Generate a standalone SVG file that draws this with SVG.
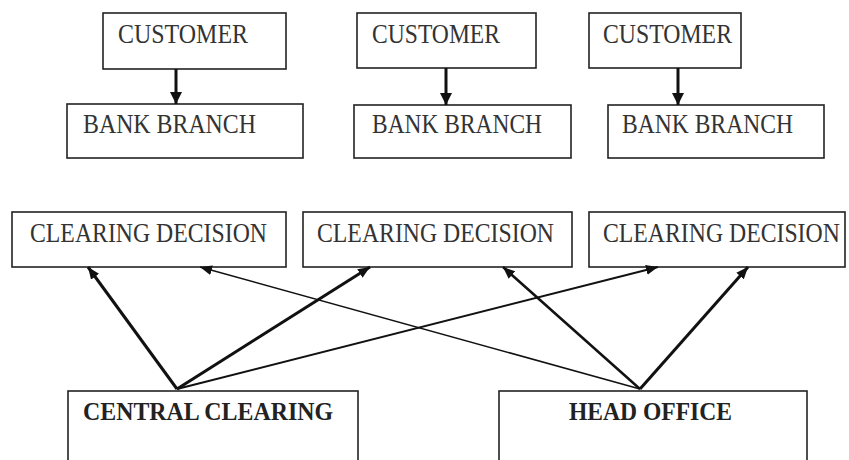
<svg xmlns="http://www.w3.org/2000/svg" width="849" height="460" viewBox="0 0 849 460">
<style>
.box{fill:#fff;stroke:#222;stroke-width:1.6}
.t{font-family:"Liberation Serif","Times New Roman",serif;font-size:27px;fill:#333}
.b{font-weight:bold;fill:#222;font-size:26px}
.c{stroke:#111;fill:none}
</style>
<defs>
<marker id="ah" viewBox="0 0 12 10" refX="12" refY="5" markerWidth="12" markerHeight="10" markerUnits="userSpaceOnUse" orient="auto">
<path d="M0,0 L12,5 L0,10 z" fill="#111"/>
</marker>
<marker id="ahv" viewBox="0 0 12 12" refX="12" refY="6" markerWidth="12" markerHeight="12" markerUnits="userSpaceOnUse" orient="auto">
<path d="M0,0 L12,6 L0,12 z" fill="#111"/>
</marker>
</defs>
<rect width="849" height="460" fill="#fff"/>
<g id="customer1"><rect class="box" x="103" y="13" width="183" height="56"/><text class="t" x="118" y="43" textLength="130" lengthAdjust="spacingAndGlyphs">CUSTOMER</text></g>
<g id="customer2"><rect class="box" x="357" y="13" width="179" height="55"/><text class="t" x="372" y="43" textLength="128" lengthAdjust="spacingAndGlyphs">CUSTOMER</text></g>
<g id="customer3"><rect class="box" x="589" y="13" width="152" height="55"/><text class="t" x="603" y="43" textLength="129" lengthAdjust="spacingAndGlyphs">CUSTOMER</text></g>
<g id="branch1"><rect class="box" x="67" y="104" width="236" height="54"/><text class="t" x="83" y="133" textLength="173" lengthAdjust="spacingAndGlyphs">BANK BRANCH</text></g>
<g id="branch2"><rect class="box" x="354" y="105" width="217" height="53"/><text class="t" x="372" y="133" textLength="170" lengthAdjust="spacingAndGlyphs">BANK BRANCH</text></g>
<g id="branch3"><rect class="box" x="608" y="105" width="216" height="53"/><text class="t" x="622" y="133" textLength="171" lengthAdjust="spacingAndGlyphs">BANK BRANCH</text></g>
<g id="decision1"><rect class="box" x="12" y="212" width="274" height="55"/><text class="t" x="30" y="242" textLength="237" lengthAdjust="spacingAndGlyphs">CLEARING DECISION</text></g>
<g id="decision2"><rect class="box" x="303" y="212" width="269" height="55"/><text class="t" x="317" y="242" textLength="237" lengthAdjust="spacingAndGlyphs">CLEARING DECISION</text></g>
<g id="decision3"><rect class="box" x="589" y="212" width="256" height="55"/><text class="t" transform="translate(603,242) scale(0.88,1)" x="0" y="0">CLEARING DECISION</text></g>
<g id="central-clearing"><rect class="box" x="68" y="391" width="290" height="80"/><text class="t b" x="83" y="420" textLength="250" lengthAdjust="spacingAndGlyphs">CENTRAL CLEARING</text></g>
<g id="head-office"><rect class="box" x="499" y="391" width="308" height="80"/><text class="t b" x="569" y="420" textLength="163" lengthAdjust="spacingAndGlyphs">HEAD OFFICE</text></g>
<g id="connectors">
<line class="c" x1="176" y1="69" x2="176" y2="104" stroke-width="3" marker-end="url(#ahv)"/>
<line class="c" x1="446" y1="68" x2="446" y2="105" stroke-width="3" marker-end="url(#ahv)"/>
<line class="c" x1="678" y1="68" x2="678" y2="105" stroke-width="3" marker-end="url(#ahv)"/>
<line class="c" x1="177" y1="389" x2="88" y2="267" stroke-width="3" marker-end="url(#ah)"/>
<line class="c" x1="177" y1="389" x2="370" y2="267" stroke-width="3" marker-end="url(#ah)"/>
<line class="c" x1="177" y1="389" x2="658" y2="267" stroke-width="2" marker-end="url(#ah)"/>
<line class="c" x1="640" y1="389" x2="200" y2="267" stroke-width="1.5" marker-end="url(#ah)"/>
<line class="c" x1="640" y1="389" x2="503" y2="267" stroke-width="2.5" marker-end="url(#ah)"/>
<line class="c" x1="640" y1="389" x2="748" y2="267" stroke-width="3" marker-end="url(#ah)"/>
</g>
</svg>
